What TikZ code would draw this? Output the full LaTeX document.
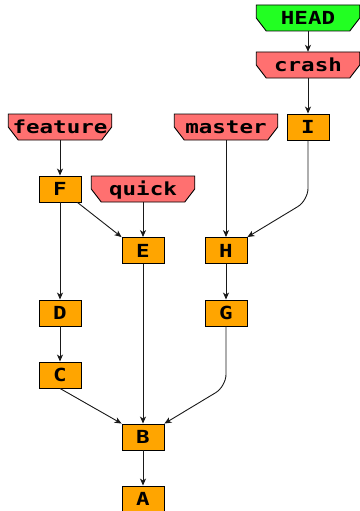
\documentclass[tikz,border=0pt]{standalone}
\usepackage{fontspec}
\newfontfamily\gmono[FakeStretch=1.25]{DejaVu Sans Mono}
\usetikzlibrary{arrows.meta}
\definecolor{corange}{HTML}{FFA500}
\definecolor{cred}{HTML}{FF7070}
\definecolor{cgreen}{HTML}{22FF22}
\tikzset{
  lbl/.style={font=\gmono\bfseries\fontsize{18}{18}\selectfont, text height=13pt, text depth=0pt, inner sep=0pt},
  commit/.style={lbl, draw=black, line width=0.9pt, fill=corange, minimum width=42pt, minimum height=26pt},
  branchtext/.style={lbl, minimum width=103.5pt, minimum height=26pt},
  branchshape/.style={draw=black, line width=0.9pt},
  edge/.style={draw=black!90, line width=0.9pt, -{Stealth[length=7pt,width=6pt,inset=2pt]}},
}
\newcommand\branchnode[4]{%
  \filldraw[branchshape, fill=#3, shift={#2}] (-51.75,-13) -- (51.75,-13) -- (51.75,0) -- (41.75,13) -- (-41.75,13) -- (-51.75,0) -- cycle;
  \node[branchtext] (#1) at #2 {#4};
}
\begin{document}
\begin{tikzpicture}[x=1pt,y=-1pt]
\useasboundingbox (0,0) rectangle (359,511);
\branchnode{HEAD}{(308,18)}{cgreen}{HEAD}
\branchnode{crash}{(308,65)}{cred}{crash}
\branchnode{feature}{(60,127)}{cred}{feature}
\branchnode{master}{(226,127)}{cred}{master}
\branchnode{quick}{(143,189)}{cred}{quick}
\node[commit] (I) at (308,127) {I};
\node[commit] (F) at (60,189) {F};
\node[commit] (E) at (143,250.5) {E};
\node[commit] (H) at (226,250.5) {H};
\node[commit] (D) at (60,313) {D};
\node[commit] (G) at (226,313) {G};
\node[commit] (C) at (60,375) {C};
\node[commit] (B) at (143,437) {B};
\node[commit] (A) at (143,499) {A};
\draw[edge] (HEAD) -- (crash);
\draw[edge] (crash) -- (I);
\draw[edge] (feature) -- (F);
\draw[edge] (master) -- (H);
\draw[edge] (quick) -- (E);
\draw[edge] (F) -- (D);
\draw[edge] ([xshift=-4pt]F.south east) -- (E.north west);
\draw[edge, rounded corners=12pt] (I.south) -- ++(0,60) -- (H.north east);
\draw[edge] (H) -- (G);
\draw[edge] (E) -- (B);
\draw[edge] (D) -- (C);
\draw[edge] (C.south) -- (B.north west);
\draw[edge, rounded corners=12pt] (G.south) -- ++(0,60) -- (B.north east);
\draw[edge] (B) -- (A);
\end{tikzpicture}
\end{document}
